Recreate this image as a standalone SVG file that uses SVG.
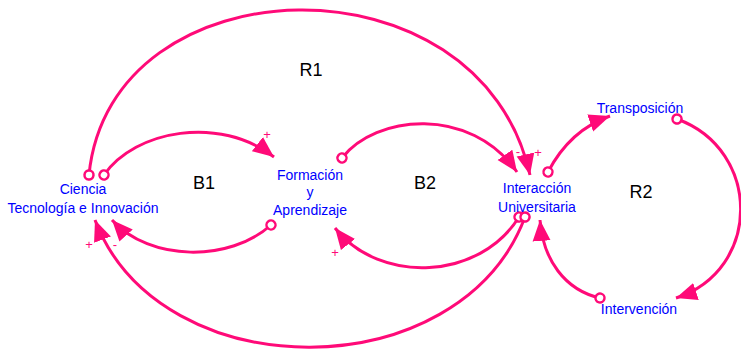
<svg xmlns="http://www.w3.org/2000/svg" width="741" height="352" viewBox="0 0 741 352">
  <style>
    .node { font-family: "Liberation Sans", Arial, sans-serif; font-size: 14px; fill: #0000ff; text-anchor: middle; }
    .loop { font-family: "Liberation Sans", Arial, sans-serif; font-size: 18px; fill: #000000; text-anchor: middle; }
    .sign { font-family: "Liberation Sans", Arial, sans-serif; font-size: 13px; fill: #ff0a78; text-anchor: middle; }
    .link { fill: none; stroke: #ff0a78; stroke-width: 3; marker-start: url(#tail); marker-end: url(#head); }
  </style>
  <defs>
    <marker id="head" markerUnits="userSpaceOnUse" markerWidth="24" markerHeight="20" refX="21" refY="10" orient="auto">
      <path d="M0,1 L21,10 L0,19 Z" fill="#ff0a78"/>
    </marker>
    <marker id="tail" markerUnits="userSpaceOnUse" markerWidth="14" markerHeight="14" refX="7" refY="7" orient="auto">
      <circle cx="7" cy="7" r="4.5" fill="#ffffff" stroke="#ff0a78" stroke-width="2.5"/>
    </marker>
  </defs>

  <!-- causal links -->
  <g id="connectors">
    <path class="link" d="M104,175 C135,130 220,115 274,157"/>
    <path class="link" d="M271,225 C230,262 150,262 112,220"/>
    <path class="link" d="M89,175 C110,-40 480,-50 530,175"/>
    <path class="link" d="M342,158 C375,115 470,105 517,172"/>
    <path class="link" d="M519,217 C480,280 380,285 335,228"/>
    <path class="link" d="M525,217 C460,390 160,390 95,220"/>
    <path class="link" d="M548,172 Q570,130 610,116"/>
    <path class="link" d="M677,119 C762,150 762,270 676,298"/>
    <path class="link" d="M600,298 C565,290 543,260 540,220"/>
  </g>

  <!-- polarity signs -->
  <g id="signs">
    <text class="sign" x="267" y="139">+</text>
    <text class="sign" x="518" y="156">-</text>
    <text class="sign" x="538" y="157">+</text>
    <text class="sign" x="335" y="257">+</text>
    <text class="sign" x="89" y="249">+</text>
    <text class="sign" x="115" y="249">-</text>
  </g>

  <!-- loop labels -->
  <g id="loops">
    <text class="loop" x="311" y="76">R1</text>
    <text class="loop" x="204" y="189">B1</text>
    <text class="loop" x="425" y="189">B2</text>
    <text class="loop" x="641" y="198">R2</text>
  </g>

  <g id="ciencia">
    <text class="node" x="83" y="194">Ciencia</text>
    <text class="node" x="83" y="213">Tecnología e Innovación</text>
  </g>
  <g id="formacion">
    <text class="node" x="310" y="180">Formación</text>
    <text class="node" x="310" y="197">y</text>
    <text class="node" x="310" y="215">Aprendizaje</text>
  </g>
  <g id="interaccion">
    <text class="node" x="537" y="193">Interacción</text>
    <text class="node" x="537" y="212">Universitaria</text>
  </g>
  <g id="transposicion">
    <text class="node" x="640" y="113">Transposición</text>
  </g>
  <g id="intervencion">
    <text class="node" x="639" y="314">Intervención</text>
  </g>
</svg>
